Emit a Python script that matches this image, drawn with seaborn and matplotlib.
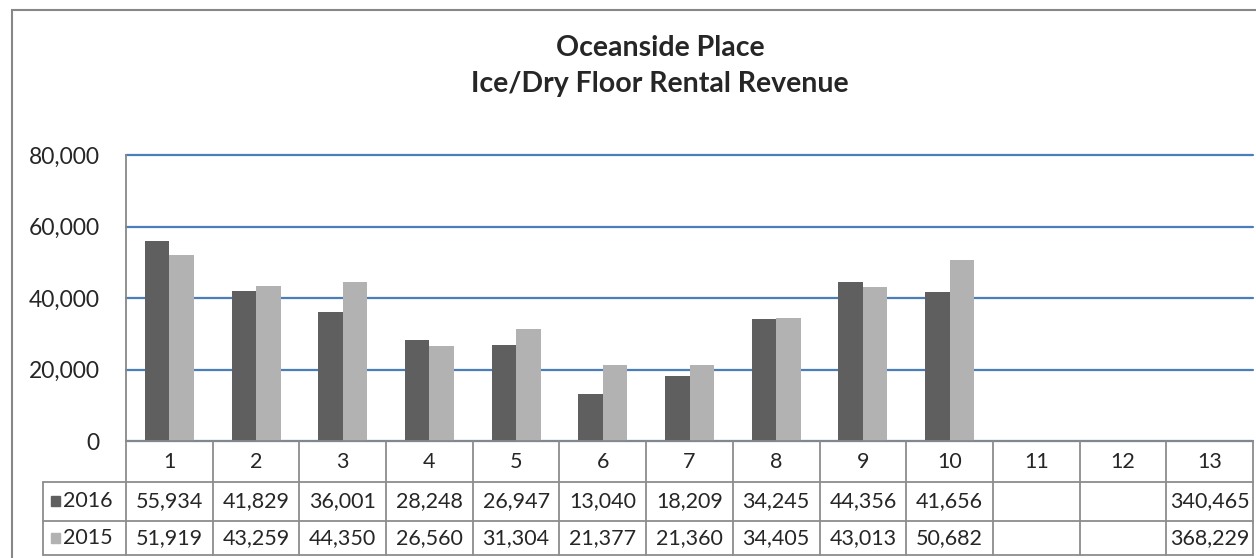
import matplotlib.pyplot as plt
from matplotlib.patches import Rectangle
import pandas as pd
import seaborn as sns

sns.set_theme(style="white")
plt.rcParams['font.family'] = ['Lato', 'DejaVu Sans']

# data
months = [str(m) for m in range(1, 14)]
rev_2016 = [55934, 41829, 36001, 28248, 26947, 13040, 18209, 34245, 44356, 41656]
rev_2015 = [51919, 43259, 44350, 26560, 31304, 21377, 21360, 34405, 43013, 50682]
total_2016 = 340465
total_2015 = 368229
years = ['2016', '2015']
colors = ['#5f5f5f', '#b2b2b2']
yticks = [0, 20000, 40000, 60000, 80000]

df = pd.DataFrame({
    'Month': months[:10] * 2,
    'Revenue': rev_2016 + rev_2015,
    'Year': ['2016'] * 10 + ['2015'] * 10,
})

W, H = 1256, 558
fig = plt.figure(figsize=(W / 100, H / 100), dpi=100)

# outer chart border
fig.patches.append(Rectangle((12 / W, -0.02), 1.1, 1 - 10 / H + 0.02, transform=fig.transFigure,
                             fill=False, edgecolor='#878787', lw=1.5))

left, right, top, bottom = 126, 1253, 155, 441
ax = fig.add_axes([left / W, 1 - bottom / H, (right - left) / W, (bottom - top) / H])
sns.barplot(data=df, x='Month', y='Revenue', hue='Year', hue_order=years, order=months,
            palette=colors, width=0.565, gap=0, saturation=1, linewidth=0,
            ax=ax, legend=False)

ax.set_xlim(-0.5, 12.5)
ax.set_ylim(0, 80000)
ax.set_yticks(yticks)
ax.set_yticklabels([f'{v:,}' for v in yticks], fontsize=16.5)
ax.tick_params(axis='y', length=0, pad=19)
ax.tick_params(axis='x', length=0, labelbottom=False)
ax.set_xlabel('')
ax.set_ylabel('')
ax.yaxis.grid(True, color='#4a7ebb', lw=1.6)
for gl in ax.get_ygridlines():
    gl.set_clip_on(False)
ax.set_axisbelow(True)
for s in ['top', 'right']:
    ax.spines[s].set_visible(False)
for s in ['left', 'bottom']:
    ax.spines[s].set_color('#888888')
    ax.spines[s].set_linewidth(1.3)

title_x = 660 / W
fig.text(title_x, 1 - 48 / H, 'Oceanside Place', ha='center', va='center',
         fontsize=20.5, fontweight='bold')
fig.text(title_x, 1 - 84 / H, 'Ice/Dry Floor Rental Revenue', ha='center', va='center',
         fontsize=20.5, fontweight='bold')

# data table under the chart
tleft, tbottom = 43, 555
col_w = (right - left) / 13
tax = fig.add_axes([tleft / W, 1 - tbottom / H, (right - tleft) / W, (tbottom - bottom) / H])
x0 = -0.5 - (left - tleft) / col_w
tax.set_xlim(x0, 12.5)
tax.set_ylim(3, 0)
tax.axis('off')
lc = '#8c8c8c'
row_edges = [0, 1.08, 2.1, 3]
for i in range(14):
    xb = i - 0.5
    tax.plot([xb, xb], [0, 3], color=lc, lw=1.3, clip_on=False)
tax.plot([x0, x0], [row_edges[1], 3], color=lc, lw=1.3, clip_on=False)
for y in row_edges[1:]:
    tax.plot([x0, 12.5], [y, y], color=lc, lw=1.3, clip_on=False)

for i, m in enumerate(months):
    tax.text(i, 0.55, m, ha='center', va='center', fontsize=15.5)

rows = [rev_2016 + [None, None, total_2016], rev_2015 + [None, None, total_2015]]
for r, (yr, vals) in enumerate(zip(years, rows)):
    yc = (row_edges[r + 1] + row_edges[r + 2]) / 2
    tax.add_patch(Rectangle((x0 + 0.09, yc - 0.13), 0.11, 0.26, color=colors[r], clip_on=False))
    tax.text(x0 + 0.23, yc, yr, ha='left', va='center', fontsize=15.5)
    for i, v in enumerate(vals):
        if v is not None:
            tax.text(i, yc, f'{v:,}', ha='center', va='center', fontsize=15.5)

fig.savefig('out.png', dpi=100)
